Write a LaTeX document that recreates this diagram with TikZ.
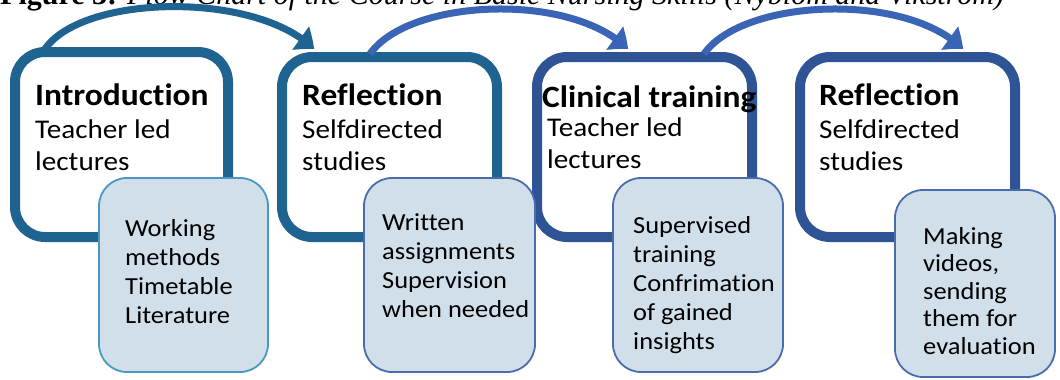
\documentclass[tikz,border=0pt]{standalone}
\usepackage{fontspec}
\setmainfont{Carlito}[FakeStretch=1.08,Ligatures=NoCommon]
\newfontfamily\capfont{Liberation Serif}
\usetikzlibrary{arrows.meta,bending}
\definecolor{boxa}{HTML}{1F6391}
\definecolor{boxb}{HTML}{2F5496}
\definecolor{arcb}{HTML}{3A64B5}
\definecolor{smfill}{HTML}{D0DFEA}
\definecolor{smedgea}{HTML}{4A98C0}
\definecolor{smedgeb}{HTML}{4A6DAA}
\tikzset{
  bigbox/.style={draw, line width=10pt, rounded corners=30pt, inner sep=0pt, fill=white},
  smallbox/.style={draw, line width=1.8pt, rounded corners=28pt, fill=smfill, inner sep=0pt},
  titletext/.style={anchor=base west, inner sep=0pt, font=\fontsize{31}{36}\selectfont\bfseries},
  bodytext/.style={anchor=base west, inner sep=0pt, align=left, font=\fontsize{27}{32}\selectfont},
  smalltext/.style={anchor=base west, inner sep=0pt, align=left, font=\fontsize{24.5}{29}\selectfont},
  flowarc/.style={line width=7pt, -{Triangle[width=28pt,length=17pt,bend]}},
}
\begin{document}
\begin{tikzpicture}[x=1pt,y=-1pt]
\useasboundingbox (0,0) rectangle (1060,380);
\begin{scope}
\clip (0,0) rectangle (1060,380);
\node[anchor=base west, inner sep=0pt, font=\capfont\fontsize{30}{34}\selectfont] (cap) at (0,5)
  {\textbf{Figure 3:} \textit{Flow Chart of the Course in Basic Nursing Skills (Nyblom and Vikstr\"om)}};
\end{scope}
% big boxes
\node[bigbox, draw=boxa, minimum width=213pt, minimum height=185pt] (b1) at (121.5,144.5) {};
\node[bigbox, draw=boxa, minimum width=215pt, minimum height=180pt] (b2) at (389.5,147) {};
\node[bigbox, draw=boxb, minimum width=215pt, minimum height=180pt] (b3) at (644.5,147) {};
\node[bigbox, draw=boxb, minimum width=215pt, minimum height=180pt] (b4) at (907.5,147) {};
% arcs
\draw[flowarc, draw=boxa] ([xshift=35pt,yshift=-2pt]b1.north west)
  .. controls +(38,-55) and +(-58,-58) .. ([xshift=37pt,yshift=3pt]b2.north west);
\draw[flowarc, draw=arcb] ([xshift=93pt,yshift=-2pt]b2.north west)
  .. controls +(38,-55) and +(-58,-58) .. ([xshift=96pt,yshift=3pt]b3.north west);
\draw[flowarc, draw=arcb] ([xshift=172pt,yshift=-2pt]b3.north west)
  .. controls +(38,-55) and +(-58,-58) .. ([xshift=168pt,yshift=3pt]b4.north west);
% big box texts (base anchor = last line)
\node[titletext] (t1) at (35,105) {Introduction};
\node[bodytext] (d1) at (35,170) {Teacher led\\lectures};
\node[titletext] (t2) at (302,105) {Reflection};
\node[bodytext] (d2) at (302,170) {Selfdirected\\studies};
\node[titletext] (t3) at (542,107) {Clinical training};
\node[bodytext] (d3) at (547,168) {Teacher led\\lectures};
\node[titletext] (t4) at (819,105) {Reflection};
\node[bodytext] (d4) at (819,170) {Selfdirected\\studies};
% small boxes
\node[smallbox, draw=smedgea, minimum width=169pt, minimum height=194pt] (s1) at (183.5,275) {};
\node[smallbox, draw=smedgeb, minimum width=171pt, minimum height=194pt] (s2) at (449.5,275) {};
\node[smallbox, draw=smedgeb, minimum width=170pt, minimum height=194pt] (s3) at (698,275) {};
\node[smallbox, draw=smedgeb, minimum width=160pt, minimum height=187pt] (s4) at (975,283.5) {};
\node[smalltext] (e1) at (125,323) {Working\\methods\\Timetable\\Literature};
\node[smalltext] (e2) at (382,317) {Written\\assignments\\Supervision\\when needed};
\node[smalltext] (e3) at (633,349) {Supervised\\training\\Confrimation\\of gained\\insights};
\node[smalltext, font=\fontsize{24.5}{27.5}\selectfont] (e4) at (923,354) {Making\\videos,\\sending\\them for\\evaluation};
\end{tikzpicture}
\end{document}
